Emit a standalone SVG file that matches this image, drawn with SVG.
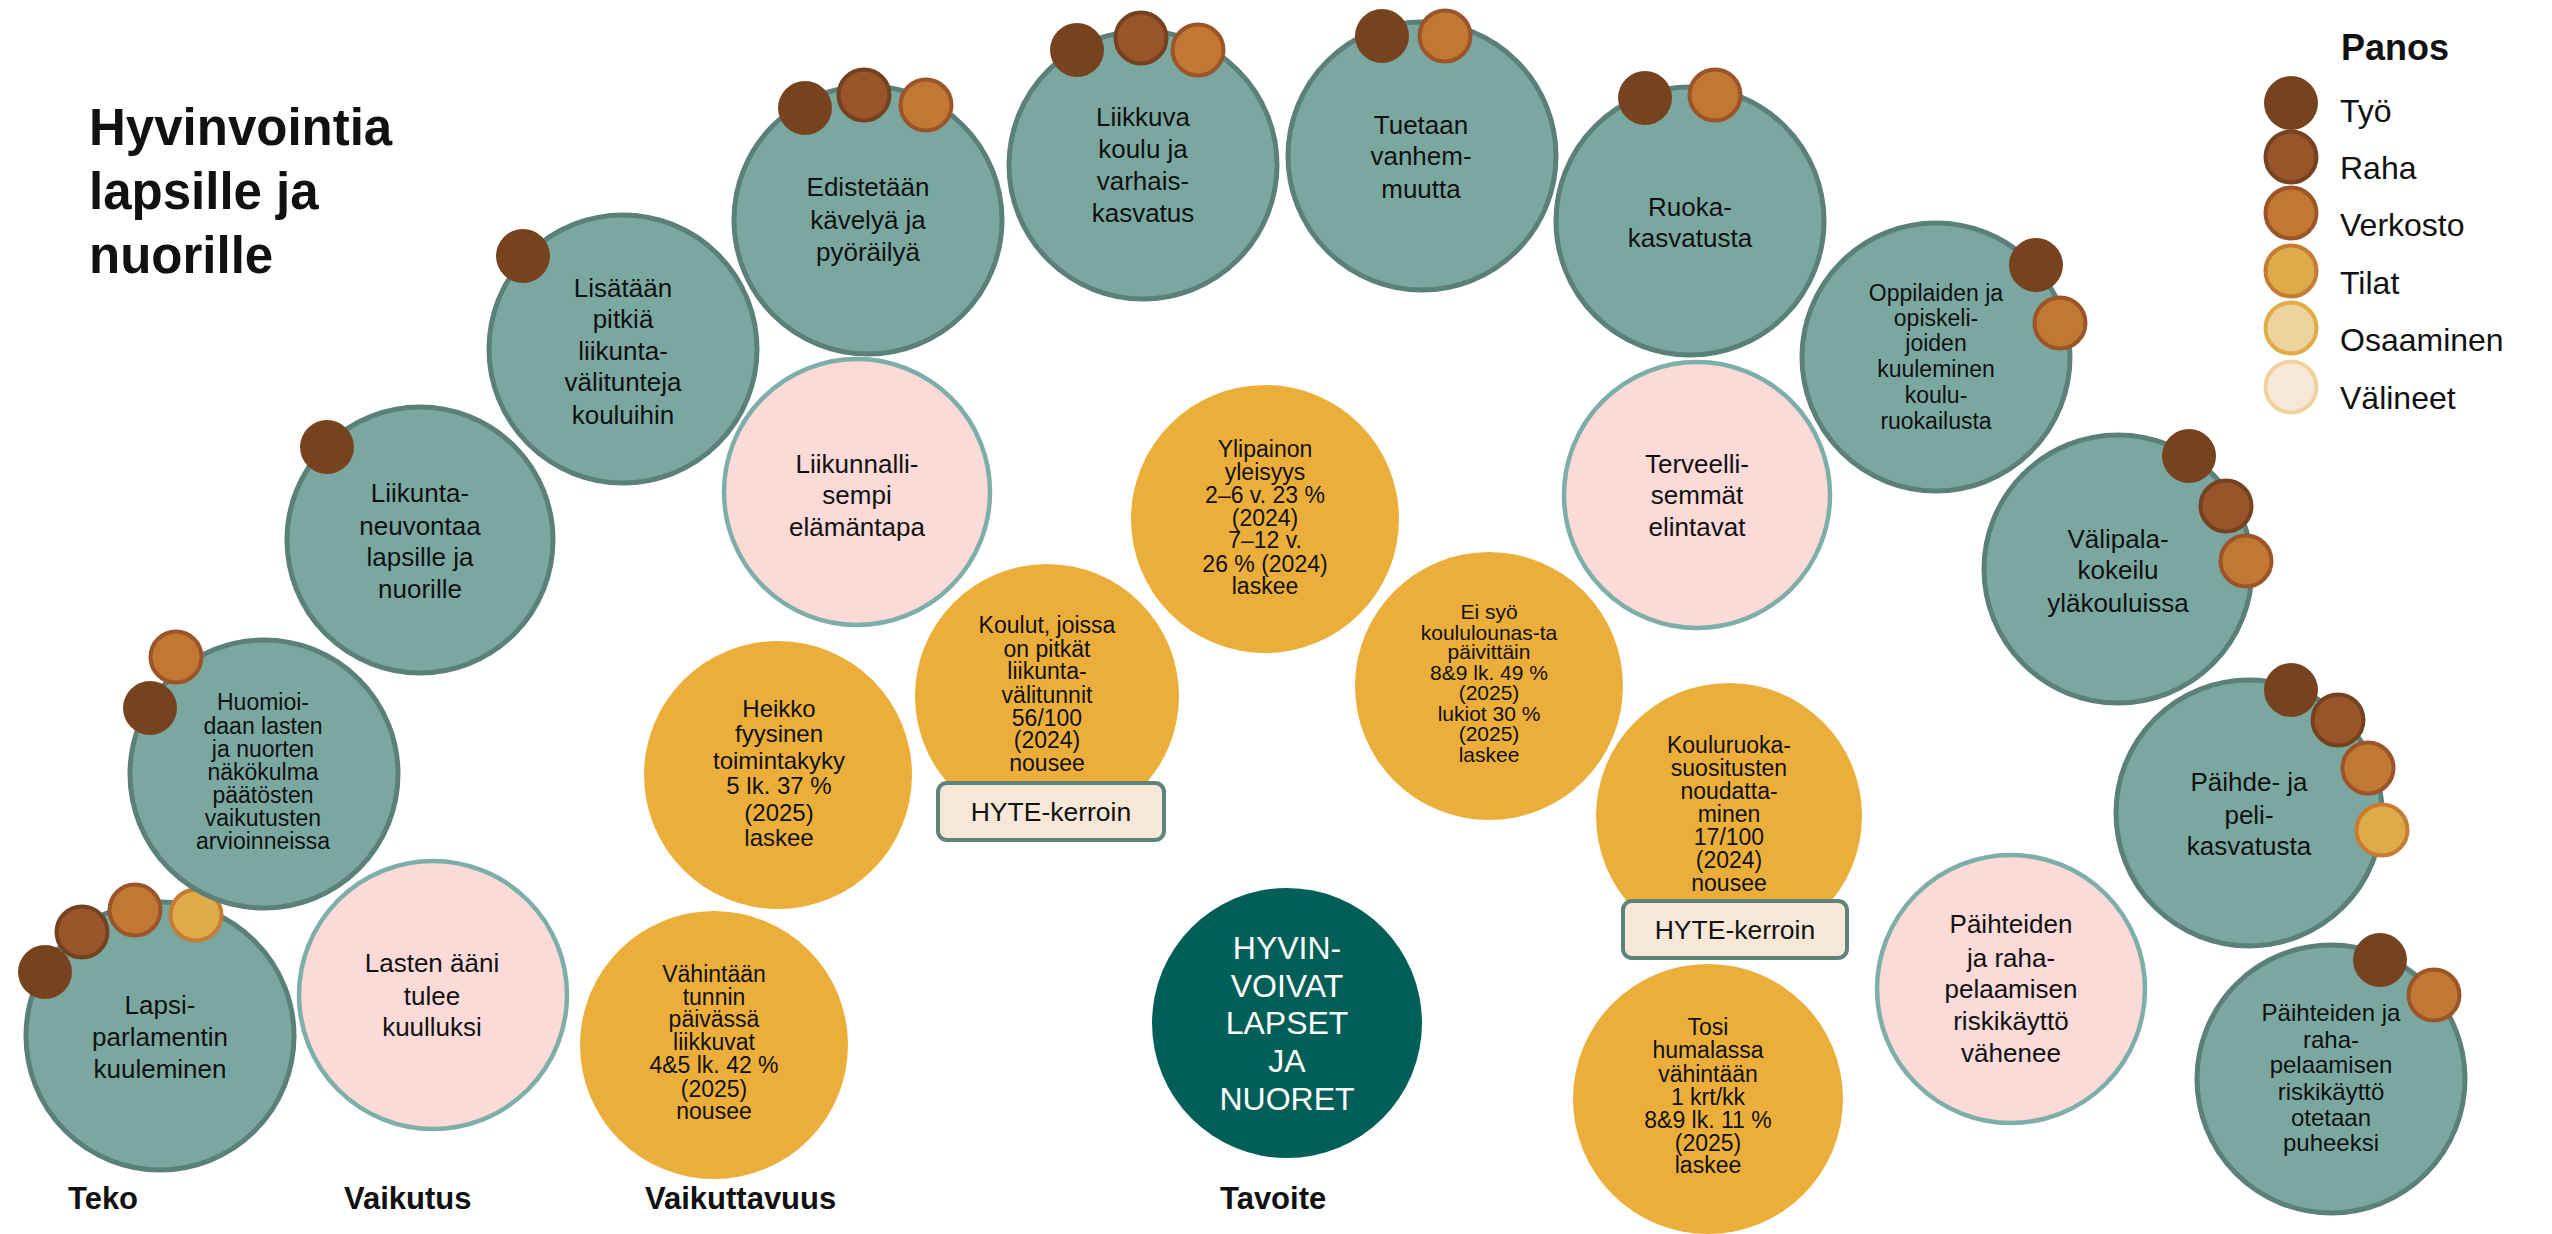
<svg xmlns="http://www.w3.org/2000/svg" width="2552" height="1234" viewBox="0 0 2552 1234">
<style>
text{font-family:"Liberation Sans",Arial,sans-serif;fill:#111;text-anchor:middle}
.t{fill:#7AA8A1;stroke:#5B7F79;stroke-width:5}
.p{fill:#FBDAD8;stroke:#7DAEA8;stroke-width:4.5}
.y{fill:#ECAE3A}
.g{fill:#025F58}
.d1{fill:#77431F}
.d2{fill:#9A5429;stroke:#74421F;stroke-width:4}
.d3{fill:#C27733;stroke:#9C5429;stroke-width:4}
.d4{fill:#DDAB4A;stroke:#C67C32;stroke-width:4}
.d5{fill:#EDD39D;stroke:#DFAC45;stroke-width:4}
.d6{fill:#F6E7D6;stroke:#EED29F;stroke-width:4}
.box{fill:#F6E7D6;stroke:#5E837D;stroke-width:4}
.f26{font-size:26px}.f24{font-size:24px}.f23{font-size:23px}.f21{font-size:21px}
.w{fill:#fff;font-size:32px}
.h{font-weight:bold;text-anchor:start}
.lg{font-size:32px;text-anchor:start}
</style>
<rect width="2552" height="1234" fill="#fff"/>
<g id="title"><text class="h" font-size="51"><tspan x="89" y="145">Hyvinvointia</tspan><tspan x="89" y="209">lapsille ja</tspan><tspan x="89" y="273">nuorille</tspan></text></g>
<g id="connectors"/>

<g id="lapsiparlamentti"><circle class="t" cx="160" cy="1036" r="134"/>
<text class="f26"><tspan x="160" y="1013.5">Lapsi-</tspan><tspan x="160" y="1046">parlamentin</tspan><tspan x="160" y="1078">kuuleminen</tspan></text>
<circle class="d1" cx="45" cy="972" r="27"/><circle class="d2" cx="82" cy="932" r="25.5"/><circle class="d3" cx="135" cy="910" r="25.5"/><circle class="d4" cx="196" cy="915" r="25.5"/></g>

<g id="huomioidaan"><circle class="t" cx="264" cy="774" r="134"/>
<text class="f23"><tspan x="263" y="710">Huomioi-</tspan><tspan x="263" y="733.5">daan lasten</tspan><tspan x="263" y="757">ja nuorten</tspan><tspan x="263" y="780">näkökulma</tspan><tspan x="263" y="803">päätösten</tspan><tspan x="263" y="826">vaikutusten</tspan><tspan x="263" y="849">arvioinneissa</tspan></text>
<circle class="d3" cx="176" cy="657" r="25.5"/><circle class="d1" cx="150" cy="708" r="27"/></g>

<g id="liikuntaneuvonta"><circle class="t" cx="420" cy="540" r="133"/>
<text class="f26"><tspan x="420" y="502">Liikunta-</tspan><tspan x="420" y="535">neuvontaa</tspan><tspan x="420" y="566">lapsille ja</tspan><tspan x="420" y="598">nuorille</tspan></text>
<circle class="d1" cx="327" cy="447" r="27"/></g>

<g id="lisataan"><circle class="t" cx="623" cy="349" r="134"/>
<text class="f26"><tspan x="623" y="296.5">Lisätään</tspan><tspan x="623" y="328">pitkiä</tspan><tspan x="623" y="360">liikunta-</tspan><tspan x="623" y="391">välitunteja</tspan><tspan x="623" y="424">kouluihin</tspan></text>
<circle class="d1" cx="523" cy="256" r="27"/></g>

<g id="edistetaan"><circle class="t" cx="868" cy="220" r="134"/>
<text class="f26"><tspan x="868" y="196">Edistetään</tspan><tspan x="868" y="228.5">kävelyä ja</tspan><tspan x="868" y="261">pyöräilyä</tspan></text>
<circle class="d1" cx="805" cy="108" r="27"/><circle class="d2" cx="864" cy="95" r="25.5"/><circle class="d3" cx="926" cy="105" r="25.5"/></g>

<g id="liikkuvakoulu"><circle class="t" cx="1143" cy="165" r="134"/>
<text class="f26"><tspan x="1143" y="126">Liikkuva</tspan><tspan x="1143" y="158">koulu ja</tspan><tspan x="1143" y="190">varhais-</tspan><tspan x="1143" y="221.5">kasvatus</tspan></text>
<circle class="d1" cx="1077" cy="50" r="27"/><circle class="d2" cx="1141" cy="38" r="25.5"/><circle class="d3" cx="1198" cy="50" r="25.5"/></g>

<g id="vanhemmuus"><circle class="t" cx="1422" cy="156" r="134"/>
<text class="f26"><tspan x="1421" y="134">Tuetaan</tspan><tspan x="1421" y="165">vanhem-</tspan><tspan x="1421" y="198">muutta</tspan></text>
<circle class="d1" cx="1382" cy="36" r="27"/><circle class="d3" cx="1445" cy="36" r="25.5"/></g>

<g id="ruokakasvatus"><circle class="t" cx="1690" cy="221" r="134"/>
<text class="f26"><tspan x="1690" y="215.5">Ruoka-</tspan><tspan x="1690" y="247">kasvatusta</tspan></text>
<circle class="d1" cx="1645" cy="98" r="27"/><circle class="d3" cx="1715" cy="95" r="25.5"/></g>

<g id="oppilaiden"><circle class="t" cx="1936" cy="357" r="134"/>
<text class="f23"><tspan x="1936" y="300.5">Oppilaiden ja</tspan><tspan x="1936" y="325.5">opiskeli-</tspan><tspan x="1936" y="350.7">joiden</tspan><tspan x="1936" y="377">kuuleminen</tspan><tspan x="1936" y="402.5">koulu-</tspan><tspan x="1936" y="429">ruokailusta</tspan></text>
<circle class="d1" cx="2036" cy="265" r="27"/><circle class="d3" cx="2060" cy="323" r="25.5"/></g>

<g id="valipala"><circle class="t" cx="2118" cy="569" r="134"/>
<text class="f26"><tspan x="2118" y="547.6">Välipala-</tspan><tspan x="2118" y="579">kokeilu</tspan><tspan x="2118" y="611.7">yläkouluissa</tspan></text>
<circle class="d1" cx="2189" cy="456" r="27"/><circle class="d2" cx="2226" cy="506" r="25.5"/><circle class="d3" cx="2246" cy="561" r="25.5"/></g>

<g id="paihdekasvatus"><circle class="t" cx="2249" cy="813" r="133"/>
<text class="f26"><tspan x="2249" y="791">Päihde- ja</tspan><tspan x="2249" y="823.6">peli-</tspan><tspan x="2249" y="855">kasvatusta</tspan></text>
<circle class="d1" cx="2291" cy="690" r="27"/><circle class="d2" cx="2338" cy="720" r="25.5"/><circle class="d3" cx="2368" cy="768" r="25.5"/><circle class="d4" cx="2382" cy="830" r="25.5"/></g>

<g id="puheeksi"><circle class="t" cx="2331" cy="1079" r="134"/>
<text class="f24"><tspan x="2331" y="1021">Päihteiden ja</tspan><tspan x="2331" y="1047.5">raha-</tspan><tspan x="2331" y="1073">pelaamisen</tspan><tspan x="2331" y="1099.6">riskikäyttö</tspan><tspan x="2331" y="1126">otetaan</tspan><tspan x="2331" y="1151">puheeksi</tspan></text>
<circle class="d1" cx="2380" cy="960" r="27"/><circle class="d3" cx="2434" cy="995" r="25.5"/></g>

<g id="lastenaani"><circle class="p" cx="433" cy="995" r="134"/>
<text class="f26"><tspan x="432" y="972">Lasten ääni</tspan><tspan x="432" y="1004.5">tulee</tspan><tspan x="432" y="1036">kuulluksi</tspan></text></g>

<g id="liikunnallisempi"><circle class="p" cx="857" cy="492" r="133"/>
<text class="f26"><tspan x="857" y="472.5">Liikunnalli-</tspan><tspan x="857" y="504">sempi</tspan><tspan x="857" y="536">elämäntapa</tspan></text></g>

<g id="terveellisemmat"><circle class="p" cx="1697" cy="495" r="133"/>
<text class="f26"><tspan x="1697" y="472.5">Terveelli-</tspan><tspan x="1697" y="504">semmät</tspan><tspan x="1697" y="536">elintavat</tspan></text></g>

<g id="vahenee"><circle class="p" cx="2011" cy="989" r="134"/>
<text class="f26"><tspan x="2011" y="933">Päihteiden</tspan><tspan x="2011" y="966.5">ja raha-</tspan><tspan x="2011" y="998">pelaamisen</tspan><tspan x="2011" y="1030">riskikäyttö</tspan><tspan x="2011" y="1061.6">vähenee</tspan></text></g>

<g id="heikko"><circle class="y" cx="778" cy="775" r="134"/>
<text class="f24"><tspan x="779" y="716.7">Heikko</tspan><tspan x="779" y="742">fyysinen</tspan><tspan x="779" y="769">toimintakyky</tspan><tspan x="779" y="794">5 lk. 37 %</tspan><tspan x="779" y="820.5">(2025)</tspan><tspan x="779" y="846">laskee</tspan></text></g>

<g id="vahintaan"><circle class="y" cx="714" cy="1045" r="134"/>
<text class="f23"><tspan x="714" y="982">Vähintään</tspan><tspan x="714" y="1005">tunnin</tspan><tspan x="714" y="1027">päivässä</tspan><tspan x="714" y="1050">liikkuvat</tspan><tspan x="714" y="1073">4&amp;5 lk. 42 %</tspan><tspan x="714" y="1096.5">(2025)</tspan><tspan x="714" y="1119">nousee</tspan></text></g>

<g id="koulut"><circle class="y" cx="1047" cy="696" r="132"/>
<text class="f23"><tspan x="1047" y="633">Koulut, joissa</tspan><tspan x="1047" y="657">on pitkät</tspan><tspan x="1047" y="679">liikunta-</tspan><tspan x="1047" y="703">välitunnit</tspan><tspan x="1047" y="726">56/100</tspan><tspan x="1047" y="748">(2024)</tspan><tspan x="1047" y="771">nousee</tspan></text>
<rect class="box" x="938" y="783" width="226" height="57" rx="9"/>
<text font-size="26.5" x="1051" y="821">HYTE-kerroin</text></g>

<g id="ylipainon"><circle class="y" cx="1265" cy="519" r="134"/>
<text class="f23"><tspan x="1265" y="457">Ylipainon</tspan><tspan x="1265" y="480">yleisyys</tspan><tspan x="1265" y="503">2–6 v. 23 %</tspan><tspan x="1265" y="526">(2024)</tspan><tspan x="1265" y="548">7–12 v.</tspan><tspan x="1265" y="572">26 % (2024)</tspan><tspan x="1265" y="594">laskee</tspan></text></g>

<g id="eisyo"><circle class="y" cx="1489" cy="686" r="134"/>
<text class="f21"><tspan x="1489" y="619">Ei syö</tspan><tspan x="1489" y="640">koululounas-ta</tspan><tspan x="1489" y="659">päivittäin</tspan><tspan x="1489" y="680">8&amp;9 lk. 49 %</tspan><tspan x="1489" y="700">(2025)</tspan><tspan x="1489" y="721">lukiot 30 %</tspan><tspan x="1489" y="741">(2025)</tspan><tspan x="1489" y="762">laskee</tspan></text></g>

<g id="kouluruoka"><circle class="y" cx="1729" cy="816" r="133"/>
<text class="f23"><tspan x="1729" y="753">Kouluruoka-</tspan><tspan x="1729" y="776">suositusten</tspan><tspan x="1729" y="799">noudatta-</tspan><tspan x="1729" y="822">minen</tspan><tspan x="1729" y="845">17/100</tspan><tspan x="1729" y="868">(2024)</tspan><tspan x="1729" y="891">nousee</tspan></text>
<rect class="box" x="1623" y="901" width="224" height="57" rx="9"/>
<text font-size="26.5" x="1735" y="939">HYTE-kerroin</text></g>

<g id="tosi"><circle class="y" cx="1708" cy="1099" r="135"/>
<text class="f23"><tspan x="1708" y="1035">Tosi</tspan><tspan x="1708" y="1058">humalassa</tspan><tspan x="1708" y="1082">vähintään</tspan><tspan x="1708" y="1105">1 krt/kk</tspan><tspan x="1708" y="1128">8&amp;9 lk. 11 %</tspan><tspan x="1708" y="1151">(2025)</tspan><tspan x="1708" y="1173">laskee</tspan></text></g>

<g id="tavoite"><circle class="g" cx="1287" cy="1023" r="135"/>
<text class="w"><tspan x="1287" y="959">HYVIN-</tspan><tspan x="1287" y="997">VOIVAT</tspan><tspan x="1287" y="1034">LAPSET</tspan><tspan x="1287" y="1072">JA</tspan><tspan x="1287" y="1110">NUORET</tspan></text></g>

<g id="columnlabels"><text class="h" font-size="31" x="68" y="1209">Teko</text><text class="h" font-size="31" x="344" y="1209">Vaikutus</text><text class="h" font-size="31" x="645" y="1209">Vaikuttavuus</text><text class="h" font-size="31" x="1220" y="1209">Tavoite</text></g>

<g id="legend"><text class="h" font-size="36" x="2341" y="60">Panos</text>
<circle class="d1" cx="2291" cy="103" r="27"/><text class="lg" x="2340" y="122">Työ</text>
<circle class="d2" cx="2291" cy="157" r="25.5"/><text class="lg" x="2340" y="179">Raha</text>
<circle class="d3" cx="2291" cy="213" r="25.5"/><text class="lg" x="2340" y="236">Verkosto</text>
<circle class="d4" cx="2291" cy="271" r="25.5"/><text class="lg" x="2340" y="294">Tilat</text>
<circle class="d5" cx="2291" cy="328" r="25.5"/><text class="lg" x="2340" y="351">Osaaminen</text>
<circle class="d6" cx="2291" cy="387" r="25.5"/><text class="lg" x="2340" y="409">Välineet</text></g>
</svg>
